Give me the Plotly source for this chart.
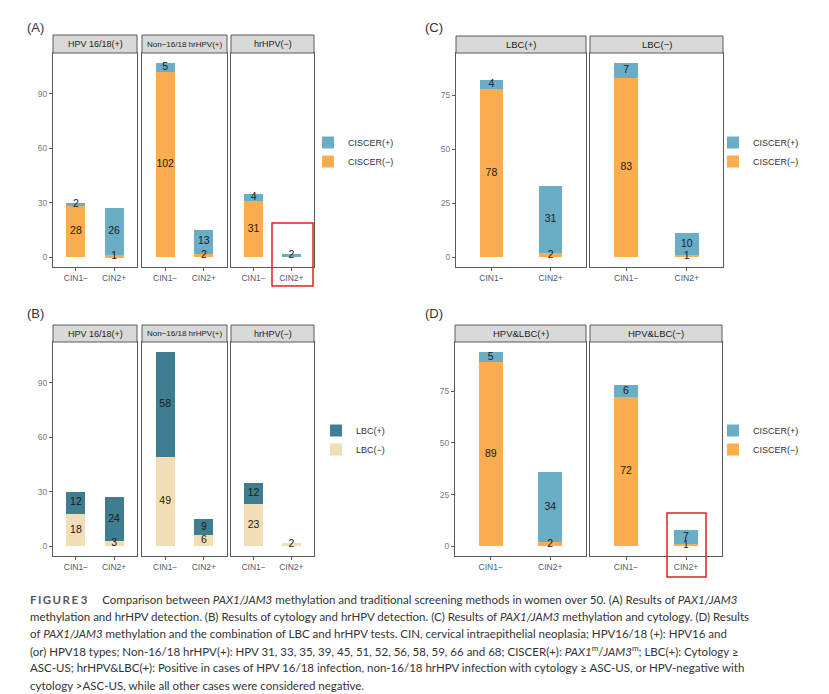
import plotly.graph_objects as go

W, H = 829, 694

cin = ["CIN1−", "CIN2+"]

# (A) PAX1/JAM3 methylation by hrHPV status
a_strips = ["HPV 16/18(+)", "Non−16/18 hrHPV(+)", "hrHPV(−)"]
a_pos = [[2, 26], [5, 13], [4, 2]]
a_neg = [[28, 1], [102, 2], [31, 0]]

# (B) cytology by hrHPV status
b_strips = ["HPV 16/18(+)", "Non−16/18 hrHPV(+)", "hrHPV(−)"]
b_pos = [[12, 24], [58, 9], [12, 0]]
b_neg = [[18, 3], [49, 6], [23, 2]]

# (C) PAX1/JAM3 methylation by cytology
c_strips = ["LBC(+)", "LBC(−)"]
c_pos = [[4, 31], [7, 10]]
c_neg = [[78, 2], [83, 1]]

# (D) PAX1/JAM3 methylation by LBC + hrHPV
d_strips = ["HPV&amp;LBC(+)", "HPV&amp;LBC(−)"]
d_pos = [[5, 34], [6, 7]]
d_neg = [[89, 2], [72, 1]]

ciscer_names = ["CISCER(+)", "CISCER(−)"]
lbc_names = ["LBC(+)", "LBC(−)"]

CIS_POS, CIS_NEG = "#69aec6", "#fbad4f"
LBC_POS, LBC_NEG = "#3f7e90", "#f3ddb4"

caption = [
    "<b><span style='color:#5a5a5a'>F\u2009I\u2009G\u2009U\u2009R\u2009E 3</span></b>"
    "&nbsp;&nbsp;&nbsp;&nbsp; Comparison between <i>PAX1/JAM3</i> methylation and traditional screening "
    "methods in women over 50. (A) Results of <i>PAX1/JAM3</i>",
    "methylation and hrHPV detection. (B) Results of cytology and hrHPV detection. (C) Results of "
    "<i>PAX1/JAM3</i> methylation and cytology. (D) Results",
    "of <i>PAX1/JAM3</i> methylation and the combination of LBC and hrHPV tests. CIN, cervical "
    "intraepithelial neoplasia; HPV16/18 (+): HPV16 and",
    "(or) HPV18 types; Non-16/18 hrHPV(+): HPV 31, 33, 35, 39, 45, 51, 52, 56, 58, 59, 66 and 68; "
    "CISCER(+): <i>PAX1</i><sup>m</sup>/<i>JAM3</i><sup>m</sup>; LBC(+): Cytology ≥",
    "ASC-US; hrHPV&amp;LBC(+): Positive in cases of HPV 16/18 infection, non-16/18 hrHPV infection "
    "with cytology ≥ ASC-US, or HPV-negative with",
    "cytology &gt;ASC-US, while all other cases were considered negative.",
]


def px(p):
    return p / W


def py(p):
    return 1 - p / H


groups = [
    dict(tag="(A)", tag_xy=(17, 20), strips=a_strips, pos=a_pos, neg=a_neg,
         xs=[(45, 129), (134, 219), (223, 306)], strip=(27, 45), plot=(45, 259),
         dtick=30, bw=0.5, names=ciscer_names, colors=(CIS_POS, CIS_NEG),
         legend="legend", leg_xy=(300, 120), strip_sizes=[9, 8, 9]),
    dict(tag="(B)", tag_xy=(17, 305), strips=b_strips, pos=b_pos, neg=b_neg,
         xs=[(45, 129), (134, 219), (223, 306)], strip=(317, 334), plot=(334, 548),
         dtick=30, bw=0.5, names=lbc_names, colors=(LBC_POS, LBC_NEG),
         legend="legend2", leg_xy=(308, 408), strip_sizes=[9, 8, 9]),
    dict(tag="(C)", tag_xy=(415, 20), strips=c_strips, pos=c_pos, neg=c_neg,
         xs=[(448, 578), (582, 715)], strip=(28, 45), plot=(45, 259),
         dtick=25, bw=0.4, names=ciscer_names, colors=(CIS_POS, CIS_NEG),
         legend="legend3", leg_xy=(705, 120), strip_sizes=[9.5, 9.5]),
    dict(tag="(D)", tag_xy=(415, 305), strips=d_strips, pos=d_pos, neg=d_neg,
         xs=[(447, 578), (582, 714)], strip=(317, 334), plot=(334, 548),
         dtick=25, bw=0.4, names=ciscer_names, colors=(CIS_POS, CIS_NEG),
         legend="legend4", leg_xy=(705, 408), strip_sizes=[9.5, 9.5]),
]

fig = go.Figure()
layout = {}
shapes = []
annotations = []
n = 0

for g in groups:
    ymax = max(p + q for ps, qs in zip(g["pos"], g["neg"]) for p, q in zip(ps, qs))
    pad = ymax * 0.05
    yrange = [-pad, ymax + pad]
    pos_color, neg_color = g["colors"]
    for i, strip in enumerate(g["strips"]):
        n += 1
        xa = "x" if n == 1 else f"x{n}"
        ya = "y" if n == 1 else f"y{n}"
        pos, neg = g["pos"][i], g["neg"][i]

        fig.add_trace(go.Bar(x=cin, y=neg, name=g["names"][1], marker_color=neg_color,
                             marker_line_width=0, width=g["bw"], xaxis=xa, yaxis=ya,
                             legend=g["legend"], showlegend=(i == 0)))
        fig.add_trace(go.Bar(x=cin, y=pos, name=g["names"][0], marker_color=pos_color,
                             marker_line_width=0, width=g["bw"], xaxis=xa, yaxis=ya,
                             legend=g["legend"], showlegend=(i == 0)))

        # count labels in the middle of each segment
        lx, ly, lt = [], [], []
        for c, p, q in zip(cin, pos, neg):
            if q > 0:
                lx.append(c); ly.append(q / 2); lt.append(str(q))
            if p > 0:
                lx.append(c); ly.append(q + p / 2); lt.append(str(p))
        fig.add_trace(go.Scatter(x=lx, y=ly, text=lt, mode="text", xaxis=xa, yaxis=ya,
                                 textfont=dict(size=10.5, color="#1a1a1a"),
                                 showlegend=False, hoverinfo="skip"))

        x0, x1 = g["xs"][i]
        first = i == 0
        layout["xaxis" if n == 1 else f"xaxis{n}"] = dict(
            domain=[px(x0), px(x1)], anchor=ya, type="category", range=[-0.6, 1.6],
            showline=True, mirror=True, linecolor="#5a5a5a", linewidth=1,
            showgrid=False, zeroline=False, ticks="outside", ticklen=3,
            tickcolor="#5a5a5a", tickfont=dict(size=8.5, color="#4a5a78"),
        )
        layout["yaxis" if n == 1 else f"yaxis{n}"] = dict(
            domain=[py(g["plot"][1]), py(g["plot"][0])], anchor=xa, range=yrange,
            dtick=g["dtick"], showline=True, mirror=True, linecolor="#5a5a5a",
            linewidth=1, showgrid=False, zeroline=False,
            ticks="outside" if first else "", ticklen=3, tickcolor="#5a5a5a",
            showticklabels=first, tickfont=dict(size=8.5, color="#7a7a7a"),
        )

        # facet strip
        s0, s1 = g["strip"]
        shapes.append(dict(type="rect", xref="paper", yref="paper",
                           x0=px(x0), x1=px(x1), y0=py(s1), y1=py(s0),
                           fillcolor="#d9d9d9", line=dict(color="#5a5a5a", width=1)))
        annotations.append(dict(text=strip, xref="paper", yref="paper",
                                x=px((x0 + x1) / 2), y=py((s0 + s1) / 2),
                                showarrow=False, xanchor="center", yanchor="middle",
                                font=dict(size=g["strip_sizes"][i], color="#222222")))

    annotations.append(dict(text=g["tag"], xref="paper", yref="paper",
                            x=px(g["tag_xy"][0]), y=py(g["tag_xy"][1]), showarrow=False,
                            xanchor="left", yanchor="middle",
                            font=dict(size=13, color="#333333")))
    lx0, ly0 = g["leg_xy"]
    layout[g["legend"]] = dict(x=px(lx0), y=py(ly0), xanchor="left", yanchor="top",
                               traceorder="reversed", bgcolor="rgba(0,0,0,0)",
                               font=dict(size=9, color="#333333"),
                               itemwidth=30, tracegroupgap=0)

# red highlight boxes
for bx0, by0, bx1, by1 in [(264, 215, 305, 278), (659, 505, 698, 569)]:
    shapes.append(dict(type="rect", xref="paper", yref="paper",
                       x0=px(bx0), x1=px(bx1), y0=py(by1), y1=py(by0),
                       line=dict(color="#e02020", width=1.5)))

for k, line in enumerate(caption):
    annotations.append(dict(text=line, xref="paper", yref="paper", x=px(20),
                            y=py(591 + k * 17.2), showarrow=False, xanchor="left",
                            yanchor="middle", align="left",
                            font=dict(family="Lato", size=11.5, color="#333333")))

fig.update_layout(
    width=W, height=H,
    margin=dict(l=0, r=0, t=0, b=0),
    paper_bgcolor="white", plot_bgcolor="white",
    barmode="stack",
    font=dict(family="Liberation Sans, Arial, sans-serif"),
    shapes=shapes, annotations=annotations,
    **layout,
)

fig.write_html("out.html")
